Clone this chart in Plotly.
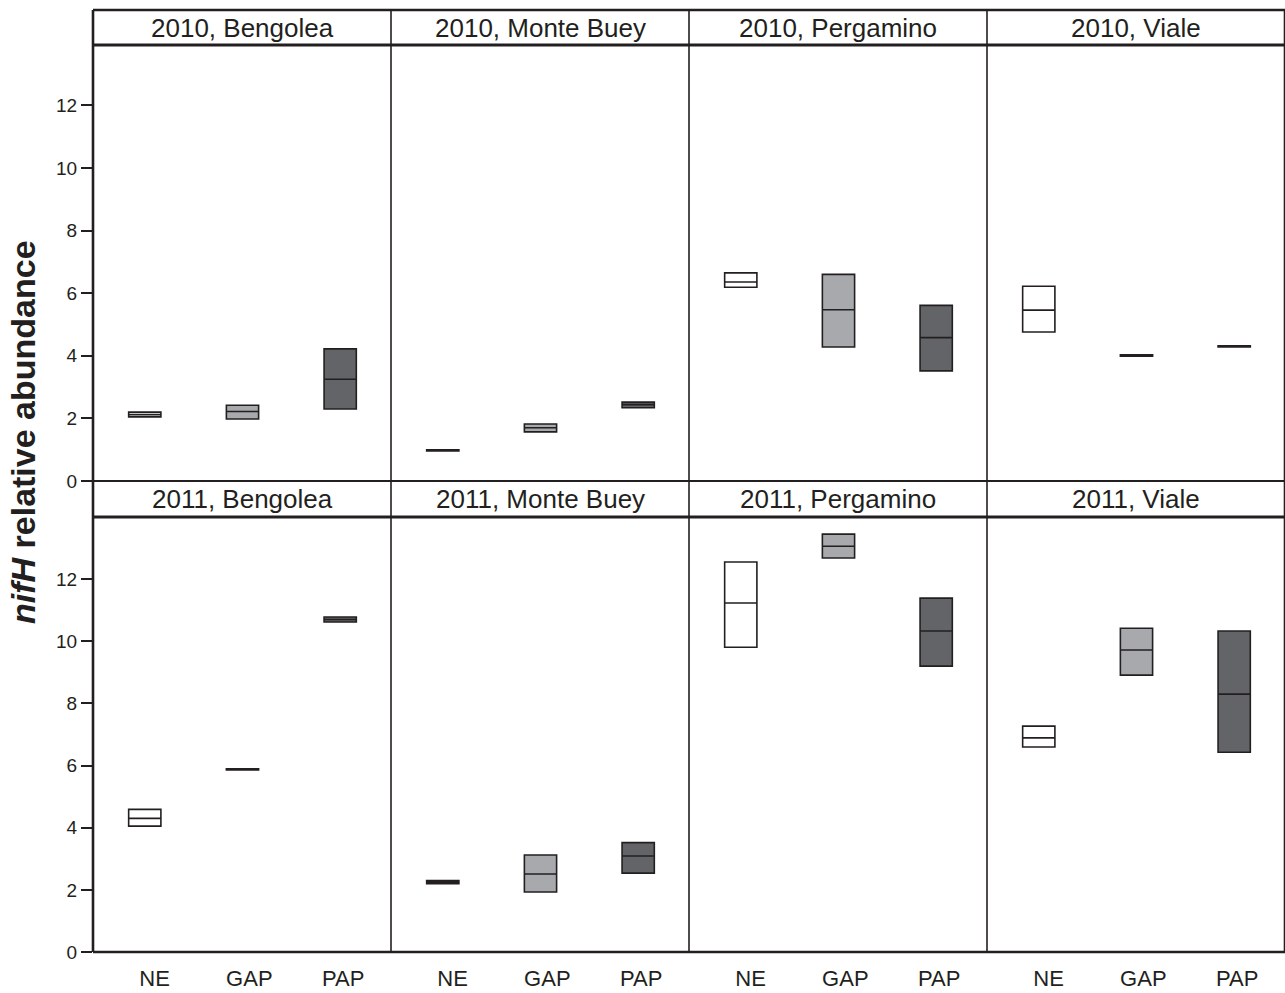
import plotly.graph_objects as go

# ---------------- data ----------------
years = ["2010", "2011"]
sites = ["Bengolea", "Monte Buey", "Pergamino", "Viale"]
treatments = ["NE", "GAP", "PAP"]

# [site][treatment] values for each year: lower edge, median, upper edge
q1_2010 = [[2.05, 1.98, 2.30], [0.96, 1.57, 2.34], [6.19, 4.28, 3.52], [4.76, 3.99, 4.28]]
med_2010 = [[2.12, 2.22, 3.25], [0.98, 1.70, 2.44], [6.36, 5.47, 4.58], [5.46, 4.01, 4.30]]
q3_2010 = [[2.20, 2.42, 4.22], [1.00, 1.82, 2.52], [6.65, 6.60, 5.61], [6.22, 4.03, 4.32]]

q1_2011 = [[4.05, 5.86, 10.62], [2.20, 1.93, 2.54], [9.81, 12.68, 9.20], [6.60, 8.91, 6.43]]
med_2011 = [[4.30, 5.88, 10.70], [2.25, 2.51, 3.09], [11.23, 13.06, 10.33], [6.89, 9.72, 8.30]]
q3_2011 = [[4.59, 5.90, 10.78], [2.30, 3.12, 3.52], [12.55, 13.45, 11.39], [7.27, 10.42, 10.33]]

y_ticks = [0, 2, 4, 6, 8, 10, 12]

# ---------------- style ----------------
INK = "#231f20"
fills = {"NE": "#ffffff", "GAP": "#a7a9ac", "PAP": "#636467"}
FONT = "Liberation Sans, Arial, Helvetica, sans-serif"

W, H = 1285, 993
ML, MR, MT, MB = 93, 0, 10, 41
ph = H - MT - MB


def py(ypx):
    return (H - MB - ypx) / ph


row_dom = [[py(481), py(45)], [0.0, py(517)]]
strip_dom = [[py(45), 1.0], [py(517), py(481)]]
y_ranges = [[0, 13.93], [0, 14.0]]

stats = {
    0: (q1_2010, med_2010, q3_2010),
    1: (q1_2011, med_2011, q3_2011),
}

fig = go.Figure()
layout = dict(
    template="none",
    width=W, height=H,
    margin=dict(l=ML, r=MR, t=MT, b=MB, autoexpand=False),
    paper_bgcolor="white", plot_bgcolor="white",
    showlegend=False,
    font=dict(family=FONT, color=INK),
)

shapes = []
annotations = []

for r in range(2):
    q1s, meds, q3s = stats[r]
    for c in range(4):
        idx = r * 4 + c + 1
        xa = "x" if idx == 1 else f"x{idx}"
        ya = "y" if idx == 1 else f"y{idx}"
        xk = "xaxis" if idx == 1 else f"xaxis{idx}"
        yk = "yaxis" if idx == 1 else f"yaxis{idx}"
        for t, tr in enumerate(treatments):
            fig.add_trace(go.Box(
                x=[t + 1],
                q1=[q1s[c][t]], median=[meds[c][t]], q3=[q3s[c][t]],
                lowerfence=[q1s[c][t]], upperfence=[q3s[c][t]],
                width=0.33,
                fillcolor=fills[tr],
                line=dict(color=INK, width=1.6),
                boxpoints=False,
                hoverinfo="skip",
                xaxis=xa, yaxis=ya,
            ))
        layout[xk] = dict(
            domain=[c / 4, (c + 1) / 4],
            anchor=ya,
            range=[0.47, 3.52],
            automargin=False,
            showgrid=False, zeroline=False, showline=False,
            tickvals=[1.1, 2.07, 3.03],
            ticktext=treatments,
            showticklabels=(r == 1),
            ticks="outside" if r == 1 else "",
            ticklen=7, tickcolor="rgba(0,0,0,0)",
            tickfont=dict(size=22, family=FONT, color=INK),
        )
        layout[yk] = dict(
            domain=row_dom[r],
            anchor=xa,
            range=y_ranges[r],
            automargin=False,
            showgrid=False, zeroline=False, showline=False,
            tickvals=y_ticks,
            showticklabels=(c == 0),
            ticks="outside" if c == 0 else "",
            ticklen=11, tickwidth=2.2, tickcolor=INK,
            tickfont=dict(size=19, family=FONT, color=INK),
        )
        # strip title
        annotations.append(dict(
            x=(c + 0.5) / 4, y=sum(strip_dom[r]) / 2,
            xref="paper", yref="paper",
            text=f"{years[r]}, {sites[c]}",
            showarrow=False, xanchor="center", yanchor="middle",
            font=dict(size=26, family=FONT, color=INK),
        ))

# frame lines
for yv, w in [(1.0, 2.6), (py(45), 3.0), (py(481), 2.2), (py(517), 3.0), (0.0, 2.6)]:
    shapes.append(dict(type="line", xref="paper", yref="paper",
                       x0=0, x1=1, y0=yv, y1=yv,
                       line=dict(color=INK, width=w), layer="above"))
for xv, w in [(0.0, 2.6), (0.25, 1.6), (0.5, 1.6), (0.75, 1.6), (1.0, 2.6)]:
    shapes.append(dict(type="line", xref="paper", yref="paper",
                       x0=xv, x1=xv, y0=0, y1=1,
                       line=dict(color=INK, width=w), layer="above"))

annotations.append(dict(
    x=(23 - ML) / (W - ML - MR), y=py(432),
    xref="paper", yref="paper",
    text="<b><i>nifH</i> relative abundance</b>",
    textangle=-90, showarrow=False,
    xanchor="center", yanchor="middle",
    font=dict(size=34, family=FONT, color=INK),
))

layout["shapes"] = shapes
layout["annotations"] = annotations
fig.update_layout(**layout)
fig.write_html(
    "out.html",
    config={"displayModeBar": False},
    post_script="document.body.style.margin='0';document.body.style.overflow='hidden';",
)
